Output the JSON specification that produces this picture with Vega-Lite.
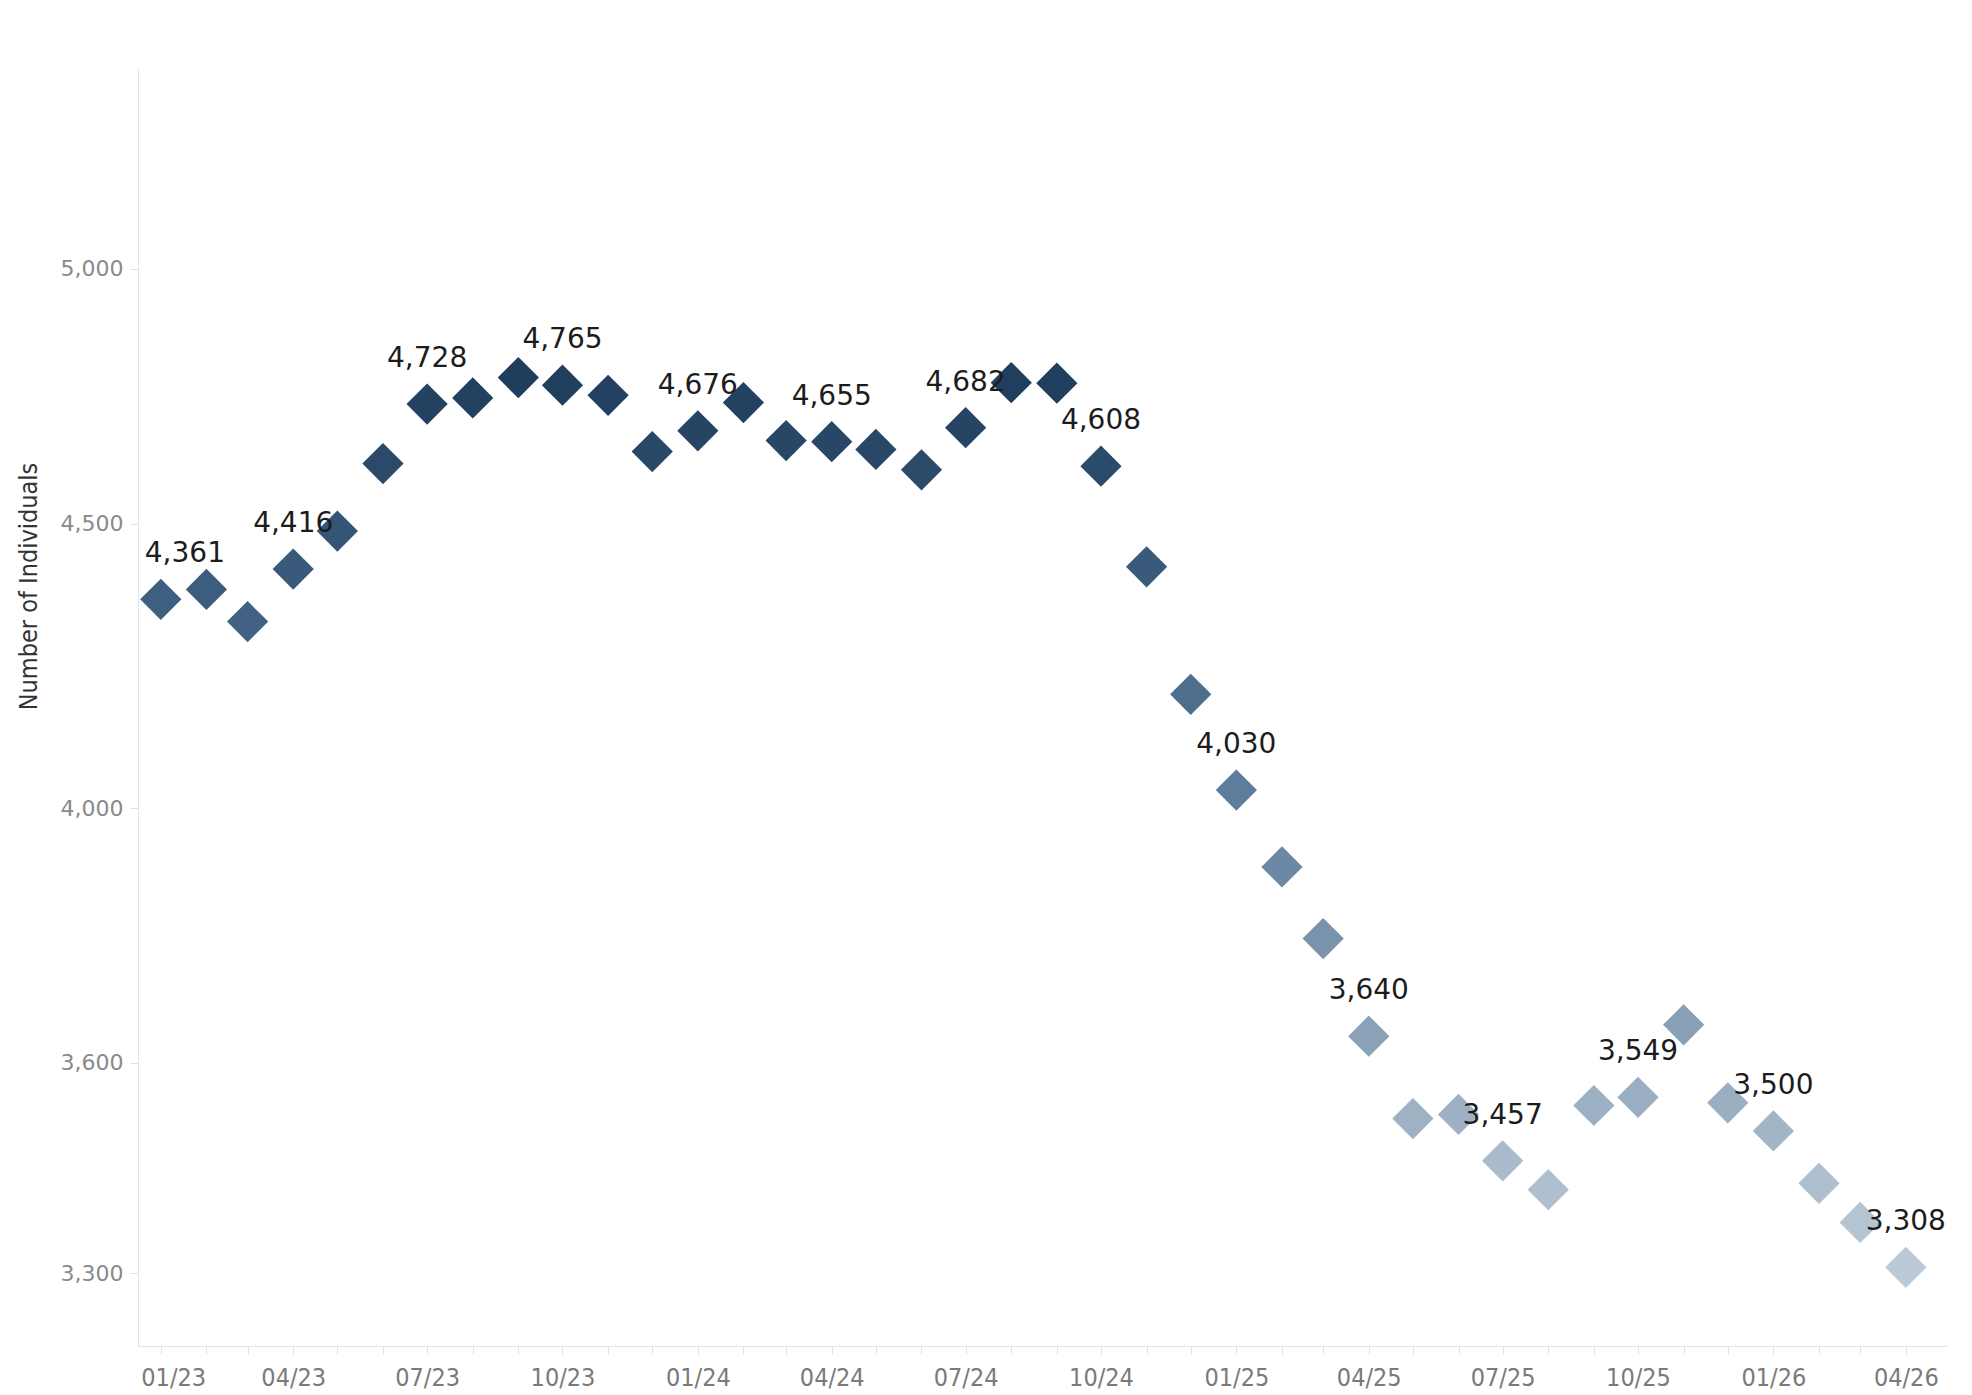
{
  "$schema": "https://vega.github.io/schema/vega-lite/v6.json",
  "width": 1809,
  "height": 1277,
  "autosize": "none",
  "padding": {"left": 138, "top": 69, "right": 25, "bottom": 49},
  "background": "white",
  "config": {"view": {"stroke": null}},
  "data": {
    "values": [
      {"date": "2023-01-01", "value": 4361},
      {"date": "2023-02-01", "value": 4379},
      {"date": "2023-03-01", "value": 4321},
      {"date": "2023-04-01", "value": 4416},
      {"date": "2023-05-01", "value": 4486},
      {"date": "2023-06-01", "value": 4613},
      {"date": "2023-07-01", "value": 4728},
      {"date": "2023-08-01", "value": 4740},
      {"date": "2023-09-01", "value": 4780},
      {"date": "2023-10-01", "value": 4765},
      {"date": "2023-11-01", "value": 4745},
      {"date": "2023-12-01", "value": 4636},
      {"date": "2024-01-01", "value": 4676},
      {"date": "2024-02-01", "value": 4731},
      {"date": "2024-03-01", "value": 4657},
      {"date": "2024-04-01", "value": 4655},
      {"date": "2024-05-01", "value": 4640},
      {"date": "2024-06-01", "value": 4601},
      {"date": "2024-07-01", "value": 4682},
      {"date": "2024-08-01", "value": 4770},
      {"date": "2024-09-01", "value": 4769},
      {"date": "2024-10-01", "value": 4608},
      {"date": "2024-11-01", "value": 4420},
      {"date": "2024-12-01", "value": 4193},
      {"date": "2025-01-01", "value": 4030},
      {"date": "2025-02-01", "value": 3904},
      {"date": "2025-03-01", "value": 3790},
      {"date": "2025-04-01", "value": 3640},
      {"date": "2025-05-01", "value": 3518},
      {"date": "2025-06-01", "value": 3524},
      {"date": "2025-07-01", "value": 3457},
      {"date": "2025-08-01", "value": 3416},
      {"date": "2025-09-01", "value": 3537},
      {"date": "2025-10-01", "value": 3549},
      {"date": "2025-11-01", "value": 3657},
      {"date": "2025-12-01", "value": 3541},
      {"date": "2026-01-01", "value": 3500},
      {"date": "2026-02-01", "value": 3425},
      {"date": "2026-03-01", "value": 3370},
      {"date": "2026-04-01", "value": 3308}
    ]
  },
  "encoding": {
    "x": {
      "field": "date",
      "type": "temporal",
      "scale": {
        "type": "utc",
        "domain": ["2022-12-16T12:00:00Z", "2026-04-29T00:00:00Z"]
      },
      "axis": {
        "title": null,
        "grid": false,
        "tickCount": {"interval": "month", "step": 1},
        "labelExpr": "utcmonth(datum.value) % 3 == 0 ? utcFormat(datum.value, '%m/%y') : ''",
        "labelOverlap": false,
        "labelFlush": 30,
        "labelFlushOffset": 20,
        "domainColor": "#e3e3e3",
        "tickColor": "#e0e0e0",
        "tickSize": 8,
        "labelPadding": 11,
        "labelFont": "DejaVu Sans Condensed, DejaVu Sans",
        "labelFontSize": 25,
        "labelColor": "#7a7a7a"
      }
    },
    "y": {
      "field": "value",
      "type": "quantitative",
      "scale": {"type": "log", "domain": [3202, 5431], "nice": false},
      "axis": {
        "values": [3300, 3600, 4000, 4500, 5000],
        "format": ",",
        "grid": false,
        "title": "Number of Individuals",
        "titleFont": "DejaVu Sans Condensed, DejaVu Sans",
        "titleFontSize": 25,
        "titleFontWeight": "normal",
        "titleColor": "#333333",
        "titleX": -110,
        "titleY": 517,
        "titleAlign": "center",
        "titleBaseline": "middle",
        "domainColor": "#e3e3e3",
        "tickColor": "#e0e0e0",
        "tickSize": 8,
        "labelPadding": 7,
        "labelFont": "DejaVu Sans",
        "labelFontSize": 22,
        "labelColor": "#8a8a8a"
      }
    }
  },
  "layer": [
    {
      "mark": {"type": "point", "shape": "diamond", "filled": true, "size": 1700, "opacity": 1, "strokeWidth": 0},
      "encoding": {
        "color": {
          "field": "value",
          "type": "quantitative",
          "scale": {
            "domain": [3308, 3457, 3640, 4030, 4361, 4780],
            "range": ["#bccad7", "#a9bbcc", "#8aa1b7", "#5e7c9b", "#3d5f80", "#1f3d5c"]
          },
          "legend": null
        }
      }
    },
    {
      "transform": [
        {"filter": "utcmonth(datum.date) % 3 == 0 && !(utcyear(datum.date) == 2023 && utcmonth(datum.date) == 0)"}
      ],
      "mark": {"type": "text", "dy": -45, "fontSize": 28, "font": "DejaVu Sans", "color": "#1c1c1c", "baseline": "middle", "align": "center"},
      "encoding": {
        "text": {"field": "value", "type": "quantitative", "format": ","}
      }
    },
    {
      "transform": [
        {"filter": "utcyear(datum.date) == 2023 && utcmonth(datum.date) == 0"}
      ],
      "mark": {"type": "text", "dy": -45, "dx": -16, "fontSize": 28, "font": "DejaVu Sans", "color": "#1c1c1c", "baseline": "middle", "align": "left"},
      "encoding": {
        "text": {"field": "value", "type": "quantitative", "format": ","}
      }
    }
  ]
}
